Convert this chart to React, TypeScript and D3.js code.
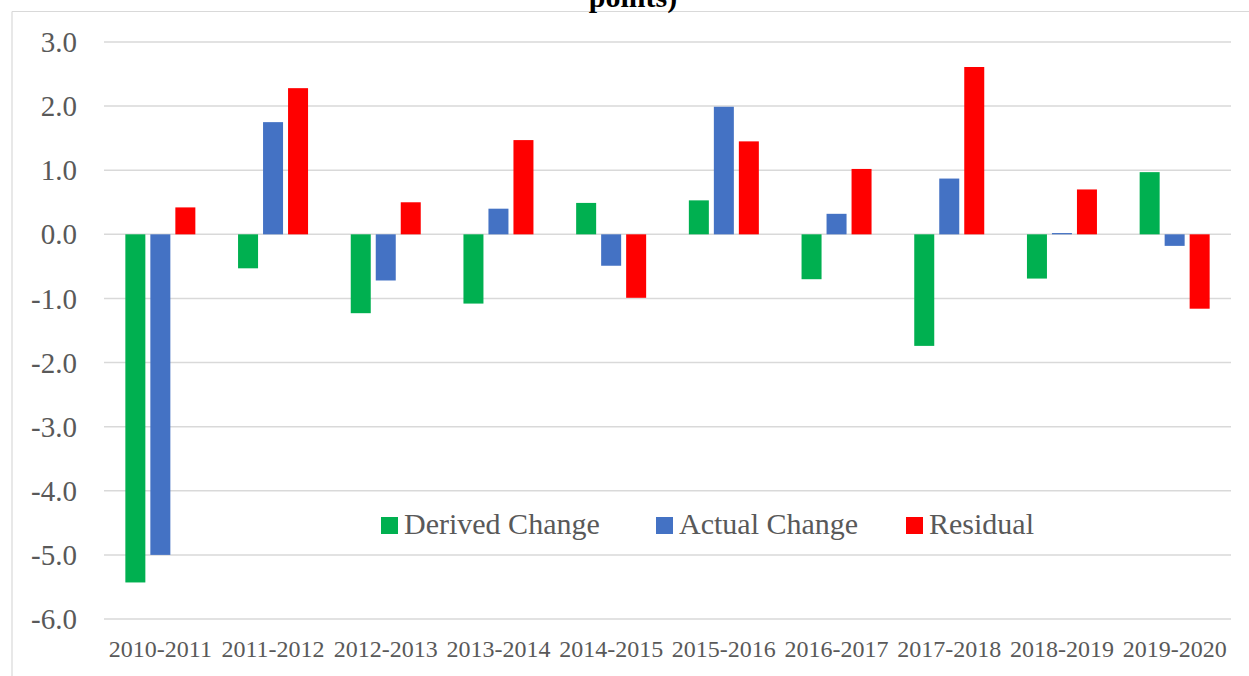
import React, { useEffect, useRef } from 'react';
import * as d3 from 'd3';

const categories = [
  '2010-2011', '2011-2012', '2012-2013', '2013-2014', '2014-2015',
  '2015-2016', '2016-2017', '2017-2018', '2018-2019', '2019-2020',
];
const seriesNames = ['Derived Change', 'Actual Change', 'Residual'];
const derivedChange = [-5.43, -0.53, -1.23, -1.08, 0.49, 0.53, -0.70, -1.74, -0.69, 0.97];
const actualChange = [-5.0, 1.75, -0.72, 0.40, -0.49, 1.99, 0.32, 0.87, 0.02, -0.18];
const residual = [0.42, 2.28, 0.50, 1.47, -0.99, 1.45, 1.02, 2.61, 0.70, -1.16];
const yTicks = [3, 2, 1, 0, -1, -2, -3, -4, -5, -6];
const colors = ['#00B050', '#4472C4', '#FF0000'];

const App: React.FC = () => {
  const svgRef = useRef<SVGSVGElement>(null);

  useEffect(() => {
    if (!svgRef.current) return;
    const width = 1249;
    const height = 676;
    const left = 104;
    const right = 1231;
    const top = 42;
    const bottom = 619;
    const serif = "'Liberation Serif', 'DejaVu Serif', serif";

    const svg = d3.select(svgRef.current);
    svg.selectAll('*').remove();
    svg.attr('width', width).attr('height', height);

    // chart area border (only top/left visible)
    svg.append('line').attr('x1', 12).attr('x2', width).attr('y1', 11.5).attr('y2', 11.5)
      .attr('stroke', '#d9d9d9').attr('stroke-width', 1.2);
    svg.append('line').attr('x1', 12).attr('x2', 12).attr('y1', 11.5).attr('y2', height)
      .attr('stroke', '#d9d9d9').attr('stroke-width', 1.2);

    // title (first line is cut off in the original)
    svg.append('text')
      .attr('x', 633).attr('y', 7)
      .attr('text-anchor', 'middle')
      .attr('font-family', serif)
      .attr('font-weight', 'bold')
      .attr('font-size', 30)
      .attr('fill', '#000')
      .text('points)');

    const y = d3.scaleLinear().domain([-6, 3]).range([bottom, top]);
    const x = d3.scaleBand<string>().domain(categories).range([left, right]).paddingInner(0).paddingOuter(0);
    const inner = d3.scaleBand<string>().domain(seriesNames).range([-35, 35]).paddingInner(0.2);

    // gridlines
    svg.append('g').selectAll('line')
      .data(yTicks)
      .join('line')
      .attr('x1', left).attr('x2', right)
      .attr('y1', d => y(d)).attr('y2', d => y(d))
      .attr('stroke', '#d9d9d9').attr('stroke-width', 1.5);

    // y tick labels (plain hyphen minus like the original)
    svg.append('g').selectAll('text')
      .data(yTicks)
      .join('text')
      .attr('x', 77)
      .attr('y', d => y(d))
      .attr('dy', '0.35em')
      .attr('text-anchor', 'end')
      .attr('font-family', serif)
      .attr('font-size', 29)
      .attr('fill', '#595959')
      .text(d => d.toFixed(1));

    // bars
    const allSeries = [derivedChange, actualChange, residual];
    allSeries.forEach((vals, si) => {
      svg.append('g').selectAll('rect')
        .data(vals)
        .join('rect')
        .attr('x', (_, i) => (x(categories[i]) ?? 0) + x.bandwidth() / 2 + (inner(seriesNames[si]) ?? 0))
        .attr('width', inner.bandwidth())
        .attr('y', d => y(Math.max(0, d)))
        .attr('height', d => Math.abs(y(d) - y(0)))
        .attr('fill', colors[si]);
    });

    // x labels
    svg.append('g').selectAll('text')
      .data(categories)
      .join('text')
      .attr('x', d => (x(d) ?? 0) + x.bandwidth() / 2)
      .attr('y', 657)
      .attr('text-anchor', 'middle')
      .attr('font-family', serif)
      .attr('font-size', 24)
      .attr('fill', '#595959')
      .text(d => d);

    // legend
    const legendX = [381, 656, 906];
    const legend = svg.append('g').selectAll('g')
      .data(seriesNames)
      .join('g')
      .attr('transform', (_, i) => `translate(${legendX[i]},517)`);
    legend.append('rect')
      .attr('width', 17).attr('height', 17)
      .attr('fill', (_, i) => colors[i]);
    legend.append('text')
      .attr('x', 23).attr('y', 17)
      .attr('font-family', serif)
      .attr('font-size', 30)
      .attr('fill', '#595959')
      .text(d => d);
  }, []);

  return (
    <div style={{ position: 'absolute', left: 0, top: 0, width: 1249, height: 676, background: '#fff' }}>
      <svg ref={svgRef} style={{ display: 'block' }}></svg>
    </div>
  );
};

export default App;
